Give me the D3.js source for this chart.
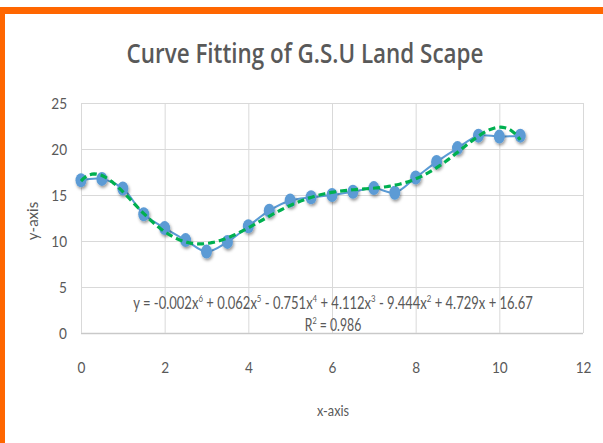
<!DOCTYPE html>
<html><head><meta charset="utf-8">
<script src="https://cdn.jsdelivr.net/npm/d3@7"></script>
<style>
body{margin:0;background:#fff}
svg{display:block}
text{font-family:Lato,"Open Sans",sans-serif;fill:#595959}
</style>
</head><body>
<svg id="chart" width="603" height="443"></svg>
<script>
// ---- data ----
const xValues = [0, 0.5, 1, 1.5, 2, 2.5, 3, 3.5, 4, 4.5, 5, 5.5, 6, 6.5, 7, 7.5, 8, 8.5, 9, 9.5, 10, 10.5];
const yValues = [16.6, 16.75, 15.7, 12.9, 11.4, 10.1, 8.85, 9.9, 11.6, 13.3, 14.4, 14.75, 15.0, 15.35, 15.75, 15.25, 16.9, 18.6, 20.1, 21.45, 21.35, 21.45];
const xTicks = [0, 2, 4, 6, 8, 10, 12];
const yTicks = [0, 5, 10, 15, 20, 25];
const titleText = "Curve Fitting of G.S.U Land Scape";
const xAxisLabel = "x-axis";
const yAxisLabel = "y-axis";
const equationParts = [["y = -0.002x", "6"], [" + 0.062x", "5"], [" - 0.751x", "4"], [" + 4.112x", "3"], [" - 9.444x", "2"], [" + 4.729x + 16.67", ""]];
const r2Parts = [["R", "2"], [" = 0.986", ""]];
const fitDegree = 6;

// ---- polynomial least-squares trendline (computed from the data) ----
function polyFit(xs, ys, deg) {
  const s = d3.max(xs);
  const n = deg + 1;
  const A = Array.from({length: n}, () => new Array(n + 1).fill(0));
  xs.forEach((xv, k) => {
    const t = xv / s;
    const p = [];
    for (let i = 0; i < n; i++) p.push(Math.pow(t, i));
    for (let i = 0; i < n; i++) {
      for (let j = 0; j < n; j++) A[i][j] += p[i] * p[j];
      A[i][n] += p[i] * ys[k];
    }
  });
  for (let c = 0; c < n; c++) {
    let piv = c;
    for (let r = c + 1; r < n; r++) if (Math.abs(A[r][c]) > Math.abs(A[piv][c])) piv = r;
    [A[c], A[piv]] = [A[piv], A[c]];
    for (let r = 0; r < n; r++) {
      if (r === c) continue;
      const f = A[r][c] / A[c][c];
      for (let j = c; j <= n; j++) A[r][j] -= f * A[c][j];
    }
  }
  const coef = A.map((row, i) => row[n] / row[i]);
  return xv => { const t = xv / s; let v = 0; for (let i = n - 1; i >= 0; i--) v = v * t + coef[i]; return v; };
}
const fit = polyFit(xValues, yValues, fitDegree);
const xMin = d3.min(xValues), xMax = d3.max(xValues);
const trend = d3.range(0, 201).map(i => { const xv = xMin + (xMax - xMin) * i / 200; return [xv, fit(xv)]; });

// ---- drawing ----
const svg = d3.select("#chart");
svg.append("rect").attr("width", 603).attr("height", 443).attr("fill", "#fff");

// orange frame (top and left)
svg.append("rect").attr("x", 0).attr("y", 7).attr("width", 603).attr("height", 7).attr("fill", "#FF6600");
svg.append("rect").attr("x", 0).attr("y", 7).attr("width", 5).attr("height", 436).attr("fill", "#FF6600");

const L = 81, R = 583, T = 103, B = 333;
const x = d3.scaleLinear().domain([0, 12]).range([L, R]);
const y = d3.scaleLinear().domain([0, 25]).range([B, T]);

const defs = svg.append("defs");
const sh = defs.append("filter").attr("id", "shadow").attr("x", "-50%").attr("y", "-50%").attr("width", "200%").attr("height", "200%");
sh.append("feDropShadow").attr("dx", 1).attr("dy", 2).attr("stdDeviation", 1.5).attr("flood-color", "#000").attr("flood-opacity", 0.4);

function squeeze(sel, k) {
  sel.each(function () {
    const t = d3.select(this);
    const cx = +t.attr("x") || 0;
    t.attr("transform", `translate(${cx},0) scale(${k},1) translate(${-cx},0)`);
  });
}

// gridlines + tick labels
const gy = svg.append("g").attr("transform", `translate(${L},0)`)
  .call(d3.axisLeft(y).tickValues(yTicks).tickSize(-(R - L)).tickPadding(14).tickFormat(d3.format("d")));
gy.select(".domain").remove();
gy.selectAll(".tick line").attr("stroke", d => d === 0 ? "#c9c9c9" : "#d9d9d9").attr("stroke-width", d => d === 0 ? 1.5 : 1);
gy.selectAll(".tick text").attr("font-size", 16).style("fill", "#595959").attr("x", -14).call(squeeze, 0.85);

const gx = svg.append("g").attr("transform", `translate(0,${B})`)
  .call(d3.axisBottom(x).tickValues(xTicks).tickSize(-(B - T)).tickPadding(0).tickFormat(d3.format("d")));
gx.select(".domain").remove();
gx.selectAll(".tick line").attr("stroke", "#d9d9d9");
gx.selectAll(".tick text").attr("font-size", 16).attr("y", 29).attr("dy", "0.71em").style("fill", "#595959").attr("x", 0).call(squeeze, 0.85);

// title
const title = svg.append("text").attr("x", 305).attr("y", 63).attr("text-anchor", "middle")
  .attr("font-size", 27).attr("font-weight", 600).style("font-family", "'Open Sans', Lato, sans-serif")
  .style("fill", "#595959").text(titleText);

// axis titles
svg.append("text").attr("x", 333).attr("y", 416).attr("text-anchor", "middle").attr("font-size", 15).text(xAxisLabel).call(squeeze, 0.85);
svg.append("text").attr("transform", "translate(38,221) rotate(-90)").attr("text-anchor", "middle").attr("font-size", 15).text(yAxisLabel);

// data line (smoothed)
svg.append("path").datum(xValues.map((xv, i) => [xv, yValues[i]]))
  .attr("fill", "none").attr("stroke", "#5B9BD5").attr("stroke-width", 2)
  .attr("d", d3.line().x(d => x(d[0])).y(d => y(d[1])).curve(d3.curveCatmullRom.alpha(0.5)));

// markers
svg.append("g").selectAll("ellipse").data(xValues.map((xv, i) => [xv, yValues[i]])).join("ellipse")
  .attr("cx", d => x(d[0])).attr("cy", d => y(d[1])).attr("rx", 5.5).attr("ry", 7)
  .attr("fill", "#5B9BD5").attr("filter", "url(#shadow)");

// trendline
svg.append("path").datum(trend)
  .attr("fill", "none").attr("stroke", "#00B050").attr("stroke-width", 3.2).attr("stroke-dasharray", "7,4")
  .attr("d", d3.line().x(d => x(d[0])).y(d => y(d[1])));

// equation label
function richText(parts, cx, cy, size) {
  const t = svg.append("text").attr("x", cx).attr("y", cy).attr("text-anchor", "middle").attr("font-size", size);
  const shift = size * 0.4;
  let raised = false;
  parts.forEach(([base, sup]) => {
    t.append("tspan").attr("dy", raised ? shift : 0).text(base);
    raised = false;
    if (sup) { t.append("tspan").attr("font-size", size * 0.6).attr("dy", -shift).text(sup); raised = true; }
  });
  return t;
}
function fitWidth(sel, cx, target) {
  const w = sel.node().getComputedTextLength();
  const k = target / w;
  sel.attr("transform", `translate(${cx},0) scale(${k},1) translate(${-cx},0)`);
}
const eq = richText(equationParts, 333, 309, 17);
fitWidth(eq, 333, 400);
const r2 = richText(r2Parts, 333, 331, 17);
squeeze(r2, 0.72);
fitWidth(title, 305, 357);
</script>
</body></html>
